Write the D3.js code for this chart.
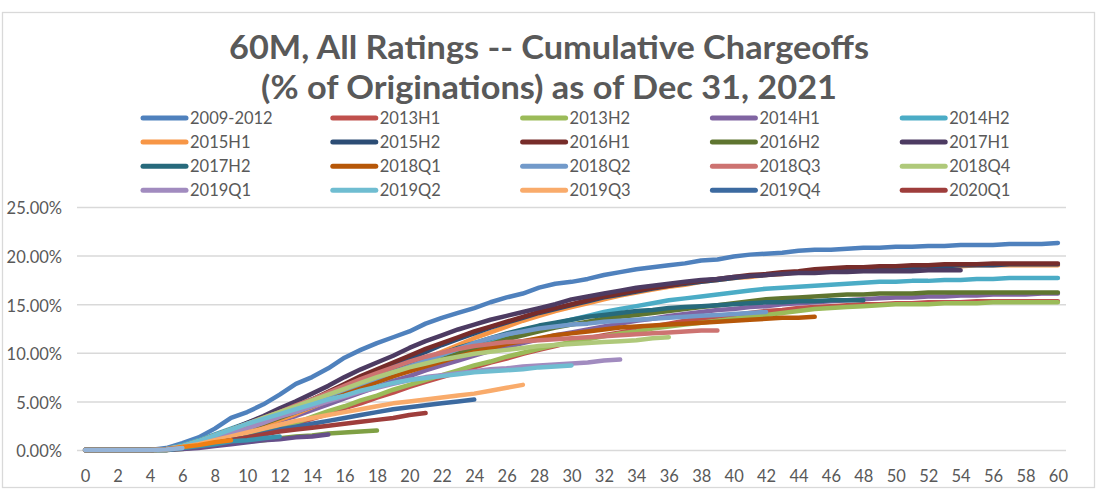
<!DOCTYPE html>
<html><head><meta charset="utf-8">
<script src="https://cdn.jsdelivr.net/npm/d3@7"></script>
<style>
body{margin:0;background:#fff}
svg text{font-family:Lato,"Open Sans",sans-serif;fill:#595959}
</style>
</head><body>
<svg id="chart" width="1098" height="500"></svg>
<script>
const titleLines = ["60M, All Ratings -- Cumulative Chargeoffs", "(% of Originations) as of Dec 31, 2021"];
const seriesNames = ["2009-2012","2013H1","2013H2","2014H1","2014H2","2015H1","2015H2","2016H1","2016H2","2017H1",
  "2017H2","2018Q1","2018Q2","2018Q3","2018Q4","2019Q1","2019Q2","2019Q3","2019Q4","2020Q1",
  "2020Q2","2020Q3","2020Q4","2021Q1","2021Q2"];
const seriesColors = ["#4F81BD","#C0504D","#9BBB59","#8064A2","#4BACC6","#F79646","#2C4D75","#772C2A","#5F7530","#4D3B62",
  "#276A7C","#B65708","#729ACA","#CD7371","#AFC97A","#A18BBF","#6FBDD1","#F9AB6B","#3C6AA0","#9E3D3B",
  "#7FA044","#664F8A","#3A93AD","#F07F12","#95B3D7"];
const legendCount = 20;
const months = d3.range(0, 61);
const xTickLabels = months.filter(m => m % 2 === 0);
const yTicks = [0, 5, 10, 15, 20, 25];

const v2009_2012 = [0,0,0,0,0,0.2,0.7,1.3,2.2,3.3,
 3.9,4.7,5.7,6.8,7.5,8.4,9.5,10.3,11.0,11.6,
 12.2,13.0,13.6,14.1,14.6,15.2,15.7,16.1,16.7,17.1,
 17.3,17.6,18.0,18.3,18.6,18.8,19.0,19.2,19.5,19.6,
 19.9,20.1,20.2,20.3,20.5,20.6,20.6,20.7,20.8,20.8,
 20.9,20.9,21.0,21.0,21.1,21.1,21.1,21.2,21.2,21.2,
 21.3];
const v2013H1 = [0,0,0,0,0,0,0.2,0.4,0.7,1.0,
 1.4,1.8,2.2,2.7,3.2,3.7,4.3,4.8,5.4,5.9,
 6.5,7.0,7.5,8.0,8.5,9.0,9.4,9.9,10.3,10.7,
 11.1,11.5,11.8,12.1,12.4,12.7,13.0,13.3,13.5,13.7,
 13.9,14.1,14.3,14.4,14.6,14.7,14.8,14.9,15.0,15.0,
 15.1,15.1,15.2,15.2,15.2,15.3,15.3,15.3,15.3,15.3,
 15.3];
const v2013H2 = [0,0,0,0,0,0,0.2,0.4,0.7,1.0,
 1.4,1.8,2.3,2.8,3.4,4.0,4.5,5.1,5.6,6.2,
 6.7,7.2,7.7,8.2,8.7,9.1,9.6,10.0,10.4,10.8,
 11.1,11.4,11.7,12.0,12.2,12.5,12.7,12.9,13.1,13.3,
 13.5,13.7,13.9,14.1,14.3,14.5,14.6,14.7,14.8,14.9,
 15.0,15.0,15.0,15.1,15.1,15.1,15.2,15.2,15.2,15.2,
 15.2];
const v2014H1 = [0,0,0,0,0,0.1,0.3,0.6,1.0,1.4,
 1.9,2.4,3.0,3.5,4.1,4.7,5.3,5.9,6.5,7.1,
 7.6,8.2,8.7,9.2,9.7,10.2,10.6,11.0,11.4,11.8,
 12.1,12.4,12.7,13.0,13.3,13.5,13.8,14.0,14.2,14.4,
 14.5,14.7,14.8,15.0,15.1,15.2,15.3,15.4,15.5,15.6,
 15.7,15.7,15.8,15.8,15.9,15.9,16.0,16.0,16.0,16.1,
 16.1];
const v2014H2 = [0,0,0,0,0,0.1,0.5,1.0,1.6,2.2,
 2.8,3.4,4.0,4.6,5.2,5.8,6.4,7.0,7.6,8.2,
 8.7,9.2,9.7,10.2,10.7,11.2,11.7,12.1,12.6,13.0,
 13.4,13.8,14.2,14.5,14.8,15.1,15.4,15.6,15.8,16.0,
 16.2,16.4,16.6,16.7,16.8,16.9,17.0,17.1,17.2,17.3,
 17.3,17.4,17.4,17.5,17.5,17.6,17.6,17.7,17.7,17.7,
 17.7];
const v2015H1 = [0,0,0,0,0,0.05,0.2,0.5,0.9,1.4,
 1.9,2.5,3.1,3.7,4.4,5.1,5.8,6.6,7.3,8.0,
 8.7,9.4,10.1,10.8,11.5,12.1,12.7,13.3,13.8,14.3,
 14.7,15.1,15.5,15.9,16.2,16.5,16.8,17.0,17.3,17.5,
 17.7,17.8,18.0,18.1,18.3,18.4,18.5,18.6,18.7,18.7,
 18.8,18.8,18.9,18.9,18.9,19.0,19.0,19.0,19.0,19.0,
 19.0];
const v2015H2 = [0,0,0,0,0,0.1,0.3,0.7,1.2,1.8,
 2.4,3.0,3.7,4.4,5.1,5.8,6.6,7.3,8.0,8.7,
 9.4,10.1,10.8,11.4,12.0,12.6,13.1,13.6,14.1,14.5,
 14.9,15.3,15.7,16.0,16.3,16.6,16.9,17.1,17.3,17.5,
 17.7,17.9,18.0,18.2,18.3,18.4,18.5,18.6,18.7,18.7,
 18.8,18.8,18.9,18.9,19.0,19.0,19.0,19.1,19.1,19.1,
 19.1];
const v2016H1 = [0,0,0,0,0,0.1,0.3,0.8,1.3,1.9,
 2.5,3.1,3.8,4.5,5.2,6.0,6.8,7.6,8.3,9.0,
 9.7,10.4,11.0,11.6,12.2,12.7,13.2,13.7,14.2,14.6,
 15.0,15.4,15.8,16.1,16.4,16.7,16.9,17.2,17.4,17.6,
 17.8,18.0,18.1,18.3,18.4,18.6,18.7,18.8,18.8,18.9,
 18.9,19.0,19.0,19.1,19.1,19.1,19.2,19.2,19.2,19.2,
 19.2];
const v2016H2 = [0,0,0,0,0,0.1,0.3,0.7,1.1,1.6,
 2.1,2.7,3.3,3.9,4.5,5.1,5.8,6.4,7.0,7.6,
 8.2,8.8,9.3,9.9,10.4,10.9,11.4,11.8,12.2,12.6,
 12.9,13.2,13.5,13.7,13.9,14.1,14.3,14.5,14.7,14.9,
 15.1,15.3,15.5,15.6,15.7,15.8,15.9,16.0,16.0,16.1,
 16.1,16.1,16.2,16.2,16.2,16.2,16.2,16.2,16.2,16.2,
 16.2];
const v2017H1 = [0,0,0,0,0,0.1,0.4,0.9,1.5,2.1,
 2.8,3.5,4.3,5.0,5.8,6.6,7.5,8.3,9.0,9.7,
 10.5,11.2,11.8,12.4,12.9,13.4,13.8,14.2,14.6,15.0,
 15.5,15.8,16.1,16.4,16.7,16.9,17.1,17.3,17.5,17.6,
 17.8,17.9,18.0,18.1,18.2,18.2,18.3,18.3,18.4,18.4,
 18.4,18.4,18.5,18.5,18.5];
const v2017H2 = [0,0,0,0,0,0.1,0.4,0.8,1.3,1.9,
 2.5,3.1,3.7,4.3,5.0,5.6,6.3,6.9,7.5,8.1,
 8.7,9.3,9.9,10.5,11.0,11.5,12.0,12.4,12.8,13.1,
 13.4,13.7,13.9,14.1,14.3,14.4,14.6,14.7,14.8,14.9,
 15.0,15.1,15.2,15.2,15.3,15.3,15.4,15.4,15.4];
const v2018Q1 = [0,0,0,0,0,0.1,0.3,0.7,1.2,1.7,
 2.2,2.8,3.4,4.0,4.6,5.2,5.8,6.4,7.0,7.6,
 8.1,8.6,9.1,9.6,10.1,10.5,10.9,11.2,11.5,11.8,
 12.0,12.2,12.4,12.6,12.7,12.8,12.9,13.0,13.1,13.2,
 13.3,13.4,13.5,13.6,13.6,13.7];
const v2018Q2 = [0,0,0,0,0,0.1,0.4,0.9,1.4,2.0,
 2.6,3.2,3.8,4.4,5.0,5.6,6.2,6.8,7.4,8.0,
 8.6,9.2,9.8,10.4,11.0,11.5,11.9,12.2,12.5,12.7,
 12.9,13.0,13.2,13.3,13.4,13.5,13.6,13.7,13.8,13.9,
 14.0,14.1,14.2];
const v2018Q3 = [0,0,0,0,0,0.1,0.4,0.9,1.5,2.1,
 2.7,3.3,3.9,4.6,5.2,5.9,6.6,7.3,7.9,8.5,
 9.1,9.6,10.0,10.4,10.7,10.9,11.1,11.2,11.3,11.4,
 11.5,11.6,11.7,11.8,11.9,12.0,12.1,12.2,12.3,12.3];
const v2018Q4 = [0,0,0,0,0,0.1,0.4,0.9,1.5,2.1,
 2.7,3.3,3.9,4.5,5.1,5.7,6.3,6.9,7.5,8.0,
 8.5,8.9,9.3,9.6,9.9,10.1,10.3,10.5,10.7,10.8,
 10.9,11.0,11.1,11.2,11.3,11.5,11.6];
const v2019Q1 = [0,0,0,0,0,0.1,0.3,0.7,1.2,1.7,
 2.2,2.8,3.4,3.9,4.5,5.0,5.5,6.0,6.4,6.8,
 7.2,7.5,7.7,7.9,8.1,8.3,8.4,8.6,8.7,8.8,
 8.9,9.0,9.2,9.3];
const v2019Q2 = [0,0,0,0,0,0.1,0.4,0.9,1.5,2.1,
 2.7,3.2,3.7,4.2,4.7,5.2,5.6,6.1,6.5,6.9,
 7.2,7.4,7.6,7.8,8.0,8.1,8.2,8.3,8.5,8.6,
 8.7];
const v2019Q3 = [0,0,0,0,0,0.1,0.3,0.6,1.0,1.4,
 1.8,2.2,2.6,3.0,3.3,3.6,3.9,4.2,4.5,4.8,
 5.0,5.2,5.4,5.6,5.8,6.1,6.4,6.7];
const v2019Q4 = [0,0,0,0,0,0.1,0.2,0.4,0.7,1.0,
 1.3,1.7,2.1,2.4,2.7,3.0,3.3,3.6,3.9,4.2,
 4.4,4.6,4.8,5.0,5.2];
const v2020Q1 = [0,0,0,0,0,0.05,0.2,0.4,0.7,1.0,
 1.3,1.6,1.9,2.1,2.3,2.5,2.7,2.9,3.1,3.3,
 3.6,3.8];
const v2020Q2 = [0,0,0,0,0,0,0.1,0.3,0.5,0.7,
 0.9,1.0,1.2,1.4,1.5,1.7,1.8,1.9,2.0];
const v2020Q3 = [0,0,0,0,0,0,0.1,0.2,0.4,0.6,
 0.8,1.0,1.1,1.3,1.4,1.6];
const v2020Q4 = [0,0,0,0,0,0,0.2,0.4,0.6,0.9,1.0,1.2,1.4];
const v2021Q1 = [0,0,0,0,0,0.05,0.3,0.5,0.8,1.0];
const v2021Q2 = [0,0,0,0,0,0.05,0.2];

const seriesValues = [v2009_2012,v2013H1,v2013H2,v2014H1,v2014H2,v2015H1,v2015H2,v2016H1,v2016H2,v2017H1,
  v2017H2,v2018Q1,v2018Q2,v2018Q3,v2018Q4,v2019Q1,v2019Q2,v2019Q3,v2019Q4,v2020Q1,
  v2020Q2,v2020Q3,v2020Q4,v2021Q1,v2021Q2];

const svg = d3.select("#chart");
const plot = {left: 77, right: 1066, top: 207, bottom: 450};

// chart border
svg.append("rect").attr("x", 2.5).attr("y", 12.5).attr("width", 1092).attr("height", 475)
  .attr("fill", "#fff").attr("stroke", "#D9D9D9").attr("stroke-width", 1.3);

// title
const tl = [{t: titleLines[0], y: 59, w: 640}, {t: titleLines[1], y: 99, w: 576}];
svg.selectAll("text.title").data(tl).join("text").attr("class", "title")
  .attr("x", 549).attr("y", d => d.y).attr("text-anchor", "middle")
  .style("font-size", "33px").style("font-weight", "bold")
  .attr("textLength", d => d.w).attr("lengthAdjust", "spacingAndGlyphs")
  .text(d => d.t);

const x = d3.scalePoint().domain(months).range([plot.left, plot.right]).padding(0.5);
const y = d3.scaleLinear().domain([0, 25]).range([plot.bottom, plot.top]);

// y axis with gridlines
const yAxis = svg.append("g").attr("transform", `translate(${plot.left},0)`)
  .call(d3.axisLeft(y).tickValues(yTicks).tickSize(-(plot.right - plot.left)).tickPadding(15)
    .tickFormat(d => d.toFixed(2) + "%"));
yAxis.select(".domain").remove();
yAxis.selectAll(".tick line").attr("stroke", "#D9D9D9").attr("stroke-width", 1.5);
yAxis.selectAll(".tick text").attr("dy", "0.42em").style("font-size", "16.5px").attr("fill", "#595959");

// x axis labels
const xAxis = svg.append("g").attr("transform", `translate(0,${plot.bottom})`)
  .call(d3.axisBottom(x).tickValues(xTickLabels).tickSize(0).tickPadding(20));
xAxis.select(".domain").remove();
xAxis.selectAll(".tick text").style("font-size", "16.5px").attr("fill", "#595959");

// lines
const line = d3.line().x((d, i) => x(months[i])).y(d => y(d));
svg.append("g").selectAll("path").data(seriesValues).join("path")
  .attr("d", d => line(d)).attr("fill", "none")
  .attr("stroke", (d, i) => seriesColors[i]).attr("stroke-width", 4.5)
  .attr("stroke-linecap", "round").attr("stroke-linejoin", "round");

// legend
const legItems = seriesNames.slice(0, legendCount).map((n, i) => ({n, c: seriesColors[i], col: i % 5, row: Math.floor(i / 5)}));
const leg = svg.append("g").selectAll("g").data(legItems).join("g")
  .attr("transform", d => `translate(${143 + d.col * 189.8},${118 + d.row * 24.1})`);
leg.append("line").attr("x1", 0).attr("x2", 43).attr("y1", 0).attr("y2", 0)
  .attr("stroke", d => d.c).attr("stroke-width", 5).attr("stroke-linecap", "round");
leg.append("text").attr("x", 47).attr("y", 5.8).style("font-size", "16.5px").text(d => d.n);
</script>
</body></html>
